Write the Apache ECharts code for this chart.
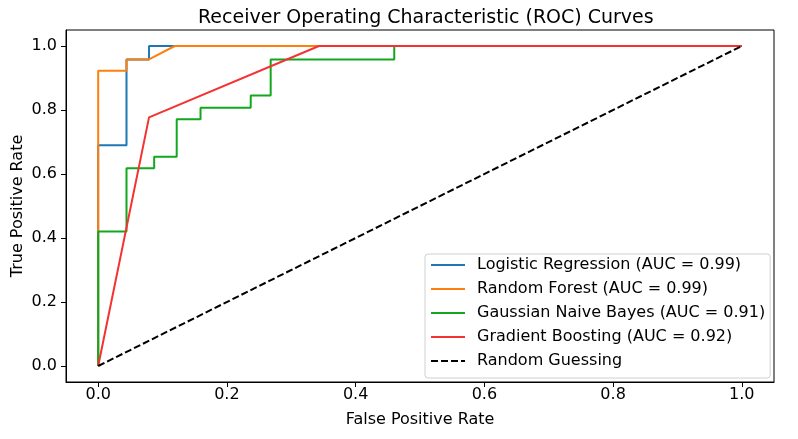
<!DOCTYPE html>
<html>
<head>
<meta charset="utf-8">
<script src="https://cdn.jsdelivr.net/npm/echarts@6/dist/echarts.min.js"></script>
<style>html,body{margin:0;padding:0;background:#fff}#c{width:798px;height:439px}</style>
</head>
<body>
<div id="c"></div>
<script>
const tickValues = [0, 0.2, 0.4, 0.6, 0.8, 1.0];

const lrName = 'Logistic Regression (AUC = 0.99)';
const lrFpr = [0, 0, 0.044, 0.044, 0.079, 0.079, 1];
const lrTpr = [0, 0.69, 0.69, 0.958, 0.958, 1, 1];

const rfName = 'Random Forest (AUC = 0.99)';
const rfFpr = [0, 0, 0.044, 0.044, 0.079, 0.119, 1];
const rfTpr = [0, 0.923, 0.923, 0.958, 0.958, 1, 1];

const gnbName = 'Gaussian Naive Bayes (AUC = 0.91)';
const gnbFpr = [0, 0, 0.044, 0.044, 0.087, 0.087, 0.122, 0.122, 0.159, 0.159, 0.237, 0.237, 0.268, 0.268, 0.46, 0.46, 1];
const gnbTpr = [0, 0.42, 0.42, 0.618, 0.618, 0.654, 0.654, 0.771, 0.771, 0.807, 0.807, 0.845, 0.845, 0.958, 0.958, 1, 1];

const gbName = 'Gradient Boosting (AUC = 0.92)';
const gbFpr = [0, 0.079, 0.343, 1];
const gbTpr = [0, 0.777, 1, 1];

const rgName = 'Random Guessing';
const rgFpr = [0, 1];
const rgTpr = [0, 1];

function pairs(xs, ys) { return xs.map((x, i) => [x, ys[i]]); }

const FONT = 'DejaVu Sans';
const chart = echarts.init(document.getElementById('c'));

function lineSeries(name, xs, ys, color, dashed) {
  return {
    name: name, type: 'line', data: pairs(xs, ys),
    symbol: 'none', showSymbol: false, animation: false,
    lineStyle: { color: color, width: 2, type: dashed ? [7, 3] : 'solid' },
    itemStyle: { color: color },
    emphasis: { disabled: true }
  };
}

chart.setOption({
  animation: false,
  backgroundColor: '#fff',
  title: {
    text: 'Receiver Operating Characteristic (ROC) Curves',
    left: 193, top: 4,
    textStyle: { fontFamily: FONT, fontSize: 19, fontWeight: 'normal', color: '#000' }
  },
  grid: { left: 66, right: 24, top: 30, bottom: 57, outerBoundsMode: 'none', containLabel: false, show: true, borderColor: '#000', borderWidth: 1, backgroundColor: 'transparent' },
  legend: {
    orient: 'vertical', left: 425, top: 254,
    itemWidth: 34, itemHeight: 16, itemGap: 8,
    padding: [3, 5, 9, 5],
    backgroundColor: '#fff', borderColor: '#d0d0d0', borderWidth: 1, borderRadius: 3,
    itemStyle: { opacity: 0 },
    textStyle: { fontFamily: FONT, fontSize: 16, lineHeight: 16, color: '#000', padding: [0, 0, 0, 7] },
    data: [lrName, rfName, gnbName, gbName, rgName]
  },
  xAxis: {
    type: 'value', min: -0.05, max: 1.05,
    name: 'False Positive Rate', nameLocation: 'middle', nameGap: 30, nameMoveOverlap: false,
    nameTextStyle: { fontFamily: FONT, fontSize: 16, color: '#000' },
    axisLine: { show: true, onZero: false, lineStyle: { color: '#000', width: 1 } },
    axisTick: { show: true, length: 5, lineStyle: { color: '#000' }, customValues: tickValues },
    axisLabel: { fontFamily: FONT, fontSize: 16, color: '#000', margin: 5, customValues: tickValues, formatter: v => v.toFixed(1) },
    splitLine: { show: false }
  },
  yAxis: {
    type: 'value', min: -0.05, max: 1.05,
    name: 'True Positive Rate', nameLocation: 'middle', nameGap: 40, nameMoveOverlap: false,
    nameTextStyle: { fontFamily: FONT, fontSize: 16, color: '#000' },
    axisLine: { show: true, onZero: false, lineStyle: { color: '#000', width: 1 } },
    axisTick: { show: true, length: 5, lineStyle: { color: '#000' }, customValues: tickValues },
    axisLabel: { fontFamily: FONT, fontSize: 16, color: '#000', margin: 9, customValues: tickValues, formatter: v => v.toFixed(1) },
    splitLine: { show: false }
  },
  series: [
    lineSeries(lrName, lrFpr, lrTpr, '#1f77b4', false),
    lineSeries(rfName, rfFpr, rfTpr, '#ff7f0e', false),
    lineSeries(gnbName, gnbFpr, gnbTpr, '#12a81e', false),
    lineSeries(gbName, gbFpr, gbTpr, '#f53232', false),
    lineSeries(rgName, rgFpr, rgTpr, '#000000', true)
  ]
});
</script>
</body>
</html>
